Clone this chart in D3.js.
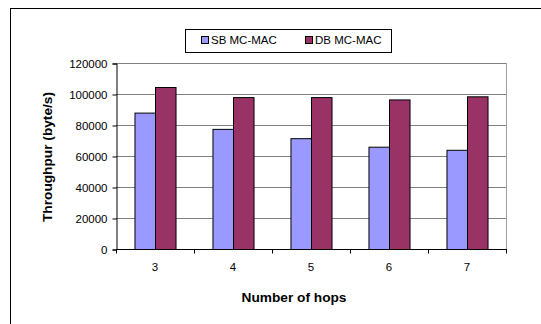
<!DOCTYPE html>
<html>
<head>
<meta charset="utf-8">
<script src="https://cdn.jsdelivr.net/npm/d3@7/dist/d3.min.js"></script>
<style>
  html, body { margin: 0; padding: 0; background: #fff; }
  svg { display: block; font-family: "Liberation Sans", Arial, sans-serif; }
</style>
</head>
<body>
<svg id="chart" width="541" height="324"></svg>
<script>
// Throughput per hop count for the two MAC schemes
const hops = ["3", "4", "5", "6", "7"];
const seriesNames = ["SB MC-MAC", "DB MC-MAC"];
const sbValues = [88000, 77500, 71500, 66000, 64000];
const dbValues = [104500, 98000, 98000, 96500, 98500];
const yTicks = [0, 20000, 40000, 60000, 80000, 100000, 120000];
const colors = ["#9999FF", "#993366"];

const svg = d3.select("#chart");
const plot = { left: 116, right: 506, top: 63, bottom: 249 };

// outer chart frame
svg.append("rect")
  .attr("x", 10.5).attr("y", 8.5)
  .attr("width", 560).attr("height", 340)
  .attr("fill", "#fff").attr("stroke", "#000").attr("stroke-width", 1);

const x = d3.scaleBand().domain(hops).range([plot.left, plot.right]).paddingInner(0).paddingOuter(0);
const inner = d3.scaleBand().domain(seriesNames).range([0, x.bandwidth()]).paddingOuter(0.9).paddingInner(0);
const y = d3.scaleLinear().domain([0, 120000]).range([plot.bottom, plot.top]);

// gridlines
svg.append("g").selectAll("line").data(yTicks.filter(d => d > 0)).join("line")
  .attr("x1", plot.left).attr("x2", plot.right)
  .attr("y1", d => Math.round(y(d)) + 0.5).attr("y2", d => Math.round(y(d)) + 0.5)
  .attr("stroke", "#808080").attr("stroke-width", 1);

// right plot border
svg.append("line")
  .attr("x1", plot.right + 0.5).attr("x2", plot.right + 0.5)
  .attr("y1", plot.top).attr("y2", plot.bottom)
  .attr("stroke", "#a0a0a0");

// bars
const rows = hops.map((h, i) => ({ hop: h, values: [sbValues[i], dbValues[i]] }));
const groups = svg.append("g").selectAll("g").data(rows).join("g")
  .attr("transform", d => `translate(${x(d.hop)},0)`);
groups.selectAll("rect").data(d => d.values.map((v, k) => ({ name: seriesNames[k], v, k }))).join("rect")
  .attr("x", d => inner(d.name) + 0.5)
  .attr("width", inner.bandwidth())
  .attr("y", d => y(d.v) + 0.5)
  .attr("height", d => y(0) - y(d.v))
  .attr("fill", d => colors[d.k])
  .attr("stroke", "#000").attr("stroke-width", 1);

// y axis
const yAxis = svg.append("g")
  .attr("transform", `translate(${plot.left + 0.5},0.5)`)
  .call(d3.axisLeft(y).tickValues(yTicks).tickSize(4).tickPadding(5).tickFormat(d3.format("d")));
yAxis.select(".domain").attr("stroke", "#000");
yAxis.selectAll("text").attr("font-size", 11.5).attr("fill", "#000")
  .style("font-family", '"Liberation Sans", Arial, sans-serif');

// x axis with ticks between categories
const xAxis = svg.append("g")
  .attr("transform", `translate(0,${plot.bottom + 0.5})`);
xAxis.append("line").attr("x1", plot.left).attr("x2", plot.right + 1).attr("stroke", "#000");
const boundaries = hops.map(h => x(h)).concat([plot.right]);
xAxis.selectAll("line.tk").data(boundaries).join("line").attr("class", "tk")
  .attr("x1", d => d + 0.5).attr("x2", d => d + 0.5).attr("y1", 0).attr("y2", 4)
  .attr("stroke", "#000");
xAxis.selectAll("text").data(hops).join("text")
  .attr("x", d => x(d) + x.bandwidth() / 2).attr("y", 21)
  .attr("text-anchor", "middle").attr("font-size", 11.5).text(d => d);

// axis titles
svg.append("text")
  .attr("transform", `translate(52,157) rotate(-90)`)
  .attr("text-anchor", "middle").attr("font-size", 13.7).attr("font-weight", "bold")
  .text("Throughpur (byte/s)");
svg.append("text")
  .attr("x", 294).attr("y", 302)
  .attr("text-anchor", "middle").attr("font-size", 13.7).attr("font-weight", "bold")
  .text("Number of hops");

// legend
const legend = svg.append("g");
legend.append("rect").attr("x", 185.5).attr("y", 29.5).attr("width", 206).attr("height", 23)
  .attr("fill", "#fff").attr("stroke", "#000");
const legendX = [201, 305];
seriesNames.forEach((name, k) => {
  legend.append("rect").attr("x", legendX[k] + 0.5).attr("y", 36.5).attr("width", 7).attr("height", 7)
    .attr("fill", colors[k]).attr("stroke", "#000");
  legend.append("text").attr("x", legendX[k] + 10).attr("y", 44)
    .attr("font-size", 11.5).text(name);
});
</script>
</body>
</html>
